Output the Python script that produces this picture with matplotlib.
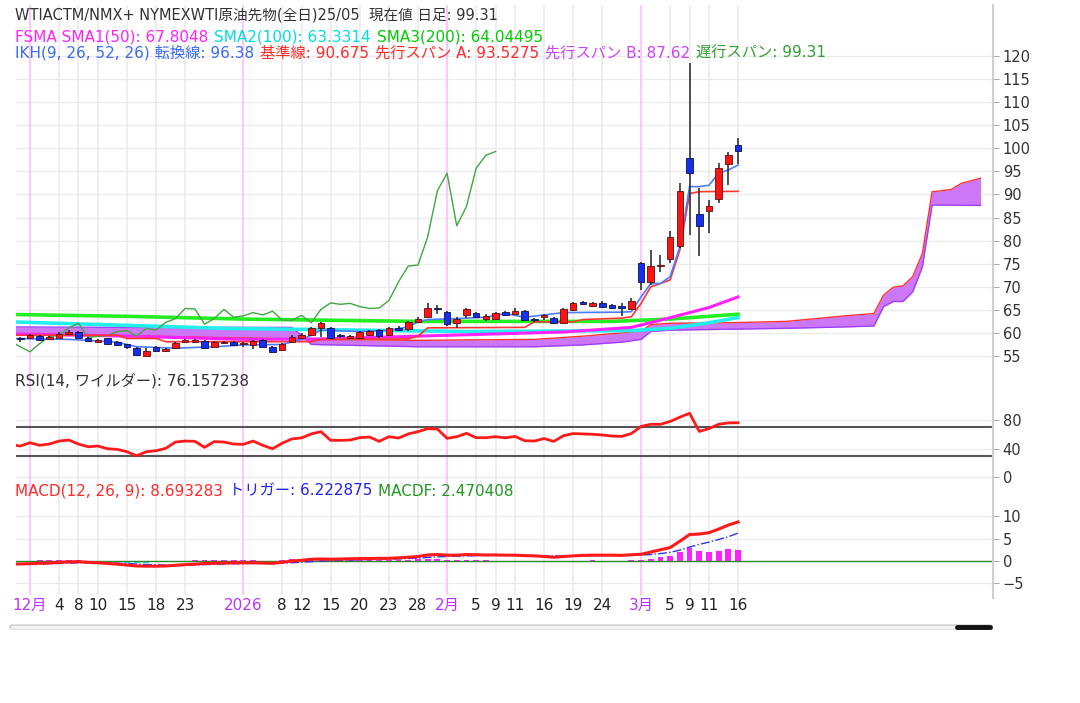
import numpy as np
import pandas as pd
import matplotlib
matplotlib.use("Agg")
import matplotlib.pyplot as plt
from matplotlib.lines import Line2D

plt.rcParams['font.family'] = ['DejaVu Sans', 'Noto Sans CJK JP']

# trading days (Nov 28 2025 .. Mar 16 2026, no Dec 25 / Jan 1)
days = pd.bdate_range('2025-11-28', '2026-03-16')
days = days[~days.isin(pd.to_datetime(['2025-12-25', '2026-01-01']))]

opens = [58.9, 59.0, 59.3, 58.6, 59.0, 59.8, 60.1, 59.0, 58.1, 58.8,
         58.0, 57.5, 56.7, 55.1, 56.9, 56.0, 56.7, 58.0, 58.1, 58.2,
         57.0, 57.8, 58.1, 57.5, 57.4, 58.5, 57.0, 56.3, 58.1, 58.8,
         59.5, 61.0, 61.0, 59.5, 59.0, 59.0, 59.5, 60.6, 59.5, 61.1,
         60.8, 62.4, 63.4, 65.5, 64.6, 62.2, 63.9, 64.4, 63.0, 63.0,
         64.5, 64.2, 64.7, 62.9, 63.5, 63.3, 62.2, 64.9, 66.6, 65.9,
         66.4, 66.0, 65.8, 65.1, 75.1, 71.1, 74.4, 76.1, 78.8, 98.0,
         85.8, 86.4, 89.0, 96.5, 100.7]
highs = [59.1, 59.8, 59.5, 59.4, 60.1, 60.6, 60.4, 59.2, 58.7, 59.0,
         58.2, 57.7, 56.9, 56.7, 57.1, 56.8, 58.0, 58.6, 58.7, 58.4,
         58.3, 58.3, 58.3, 58.0, 58.4, 58.7, 57.1, 57.9, 59.5, 59.9,
         61.3, 62.3, 61.2, 59.8, 59.5, 60.5, 60.7, 60.8, 61.2, 61.4,
         62.5, 63.5, 66.5, 66.0, 64.8, 63.5, 65.3, 64.6, 64.0, 64.6,
         64.7, 65.5, 64.9, 63.2, 64.2, 63.5, 65.3, 66.7, 66.9, 66.8,
         66.9, 66.2, 66.4, 67.5, 75.3, 78.0, 76.9, 82.0, 92.4, 118.5,
         91.3, 88.8, 96.9, 99.3, 102.2]
lows = [58.1, 58.9, 58.3, 58.4, 58.9, 59.6, 58.9, 58.0, 57.8, 57.3,
        57.2, 56.6, 55.0, 55.0, 55.9, 55.9, 56.6, 57.9, 57.9, 56.6,
        56.9, 57.6, 57.2, 57.0, 56.6, 56.9, 55.7, 56.0, 58.0, 58.7,
        59.4, 59.2, 58.9, 59.0, 58.9, 58.6, 59.3, 59.0, 59.4, 60.4,
        60.4, 62.2, 63.3, 64.2, 61.5, 61.1, 63.2, 63.2, 62.6, 62.7,
        63.7, 64.0, 62.6, 62.3, 62.8, 62.0, 62.0, 64.7, 66.0, 65.7,
        65.5, 65.1, 63.7, 64.9, 69.3, 70.3, 73.3, 75.1, 78.3, 81.2,
        76.7, 81.7, 88.2, 92.0, 96.7]
closes = [58.6, 59.5, 58.5, 59.2, 59.8, 60.3, 59.0, 58.2, 58.4, 57.6,
          57.4, 56.9, 55.2, 56.0, 56.1, 56.6, 57.9, 58.4, 58.5, 56.7,
          58.1, 58.0, 57.4, 57.6, 58.2, 57.0, 55.9, 57.7, 59.2, 59.5,
          61.1, 62.1, 59.0, 59.3, 59.4, 60.3, 60.5, 59.3, 61.0, 60.6,
          62.3, 63.1, 65.3, 65.2, 61.9, 63.1, 65.1, 63.4, 63.7, 64.4,
          63.9, 64.7, 62.8, 62.7, 63.8, 62.2, 65.1, 66.5, 66.2, 66.4,
          65.7, 65.3, 65.4, 67.0, 71.1, 74.5, 74.7, 80.8, 90.8, 94.6,
          83.2, 87.4, 95.7, 98.5, 99.31]

# moving averages (bar index, value)
sma50_x = [-1, 11, 23, 31, 46, 56, 63, 67, 71, 74]
sma50 = [59.8, 59.3, 58.6, 58.7, 59.6, 60.2, 61.2, 63.3, 65.5, 67.8048]
sma100_x = [-1, 21, 46, 63, 67, 71, 74]
sma100 = [62.4, 61.0, 60.3, 60.5, 61.0, 62.2, 63.3314]
sma200_x = [-1, 11, 23, 41, 61, 67, 74]
sma200 = [64.0, 63.6, 63.0, 62.5, 62.5, 63.0, 64.04495]

# ichimoku
tenkan_x = [-1, 5, 10, 12, 16, 20, 23, 27, 29, 30, 31, 35, 38, 40, 41, 42, 45, 48, 50,
            52, 54, 56, 62, 63, 64, 65, 66, 67, 68, 69, 70, 71, 72, 73, 74]
tenkan = [58.8, 58.6, 58.0, 57.0, 56.7, 57.0, 57.4, 57.5, 58.6, 59.5, 60.6, 60.3, 60.6,
          61.3, 62.4, 62.9, 63.1, 63.4, 64.2, 63.4, 63.9, 64.4, 64.5, 64.6, 67.8, 70.7,
          70.7, 72.2, 78.7, 91.7, 91.7, 92.0, 94.6, 95.3, 96.38]
kijun_x = [-1, 10, 11, 14, 15, 30, 31, 40, 41, 42, 52, 53, 57, 58, 62, 63, 64, 65, 66,
           67, 68, 69, 70, 74]
kijun = [59.5, 59.5, 58.8, 58.8, 58.1, 58.1, 58.6, 58.7, 59.3, 61.1, 61.2, 62.4, 62.4,
         62.9, 63.2, 63.5, 66.4, 70.0, 70.7, 71.5, 78.0, 90.2, 90.6, 90.675]
cloud_x = [-1, 11, 21, 28, 29, 30, 41, 53, 58, 62, 64, 65, 67, 73, 79, 83, 85, 88, 89,
           90, 91, 92, 93, 94, 95, 96, 97, 99]
span_a = [59.6, 59.4, 59.0, 58.7, 58.7, 58.6, 58.4, 58.6, 59.3, 60.0, 60.4, 61.8, 62.1,
          62.2, 62.5, 63.3, 63.7, 64.2, 68.2, 69.9, 70.2, 72.2, 77.2, 90.6, 90.8, 91.1,
          92.4, 93.5275]
span_b = [61.3, 61.2, 61.2, 61.2, 59.5, 57.5, 57.0, 57.0, 57.4, 58.0, 58.6, 60.3, 60.6,
          60.8, 61.0, 61.2, 61.3, 61.5, 65.7, 66.8, 66.8, 68.9, 74.3, 87.7, 87.7, 87.7,
          87.65, 87.62]
chikou_shift = 25

# oscillators, one value per bar from index -1
rsi = [45.5, 43.5, 48.1, 44.5, 46.3, 50.5, 51.9, 46.3, 42.5, 43.5, 39.7, 38.8, 35.5,
       29.9, 35.5, 36.9, 40.3, 49.1, 50.5, 50.1, 41.7, 49.7, 49.1, 46.3, 45.9, 50.5,
       44.5, 39.7, 47.4, 53.5, 54.9, 60.5, 63.6, 51.5, 51.5, 51.9, 55.2, 56.1, 50.1,
       56.6, 54.7, 60.5, 63.6, 67.9, 67.4, 54.3, 56.6, 61.3, 55.2, 55.2, 56.6, 55.0,
       57.0, 51.0, 50.5, 54.0, 50.0, 58.0, 61.0, 60.5, 60.0, 59.0, 57.5, 57.0, 61.0,
       71.0, 74.0, 74.0, 78.0, 84.0, 89.5, 64.0, 68.0, 74.0, 76.0, 76.157238]
macd = [-0.7, -0.65, -0.6, -0.5, -0.45, -0.3, -0.2, -0.15, -0.3, -0.4, -0.55, -0.7,
        -0.9, -1.1, -1.15, -1.15, -1.1, -0.95, -0.8, -0.7, -0.55, -0.5, -0.45, -0.4,
        -0.4, -0.4, -0.45, -0.5, -0.3, 0.0, 0.15, 0.4, 0.45, 0.4, 0.45, 0.5, 0.55, 0.55,
        0.6, 0.6, 0.7, 0.85, 1.0, 1.35, 1.45, 1.3, 1.3, 1.45, 1.4, 1.35, 1.35, 1.3, 1.3,
        1.2, 1.15, 1.0, 0.85, 1.0, 1.15, 1.25, 1.3, 1.3, 1.3, 1.25, 1.4, 1.5, 2.0, 2.5,
        3.0, 4.4, 5.9, 6.0, 6.3, 7.1, 8.0, 8.693283]
trigger = [-0.7, -0.68, -0.66, -0.63, -0.6, -0.54, -0.47, -0.41, -0.39, -0.39, -0.42,
           -0.48, -0.56, -0.67, -0.77, -0.84, -0.89, -0.9, -0.88, -0.85, -0.79, -0.73,
           -0.67, -0.62, -0.57, -0.54, -0.52, -0.52, -0.47, -0.38, -0.27, -0.14, -0.02,
           0.06, 0.14, 0.21, 0.28, 0.33, 0.39, 0.43, 0.48, 0.56, 0.64, 0.79, 0.92, 1.0,
           1.06, 1.14, 1.19, 1.22, 1.25, 1.26, 1.27, 1.25, 1.23, 1.18, 1.12, 1.1, 1.11,
           1.14, 1.17, 1.2, 1.22, 1.22, 1.26, 1.31, 1.45, 1.66, 1.93, 2.42, 3.1, 3.7,
           4.2, 4.8, 5.4, 6.222875]

tick_dates = ['2025-12-01', '2025-12-04', '2025-12-08', '2025-12-10', '2025-12-15',
              '2025-12-18', '2025-12-23', '2026-01-02', '2026-01-08', '2026-01-12',
              '2026-01-15', '2026-01-20', '2026-01-23', '2026-01-28', '2026-02-02',
              '2026-02-05', '2026-02-09', '2026-02-11', '2026-02-16', '2026-02-19',
              '2026-02-24', '2026-03-02', '2026-03-05', '2026-03-09', '2026-03-11',
              '2026-03-16']
tick_labels = ['12月', '4', '8', '10', '15', '18', '23', '2026', '8', '12', '15', '20',
               '23', '28', '2月', '5', '9', '11', '16', '19', '24', '3月', '5', '9',
               '11', '16']
month_labels = ['12月', '2026', '2月', '3月']

W, H = 1080, 703
fig = plt.figure(figsize=(W / 100, H / 100), dpi=100)
fig.patch.set_facecolor('white')


def box(top, bottom):
    return [16 / W, 1 - bottom / H, (993 - 16) / W, (bottom - top) / H]


ax = fig.add_axes(box(5, 368))
ax_rsi = fig.add_axes(box(368, 490), sharex=ax)
ax_macd = fig.add_axes(box(490, 595), sharex=ax)

tick_pos = [days.get_loc(pd.Timestamp(d)) for d in tick_dates]
grid_c = '#ebebeb'
pink = '#ffbbff'

for a, yt in [(ax, np.arange(55, 121, 5)), (ax_rsi, [0, 40, 80]), (ax_macd, [-5, 0, 5, 10])]:
    for s in a.spines.values():
        s.set_visible(False)
    a.yaxis.tick_right()
    a.set_yticks(yt)
    a.tick_params(axis='y', labelsize=10.5, colors='#333333', length=4, pad=3, color='#aaaaaa')
    a.tick_params(axis='x', length=0)
    for v in yt:
        a.axhline(v, color=grid_c, lw=1, zorder=0)
    for p, lab in zip(tick_pos, tick_labels):
        a.axvline(p, color=pink if lab in month_labels else grid_c, lw=1.2, zorder=0)

ax.set_xlim(-0.44, 100.28)
ax.set_ylim(52.4, 131.05)
ax_rsi.set_ylim(-18.2, 153)
ax_macd.set_ylim(-7.56, 15.8)
ax.tick_params(axis='x', labelbottom=False)
ax_rsi.tick_params(axis='x', labelbottom=False)

# cloud
ax.fill_between(cloud_x, span_a, span_b, color='#cc77f5', lw=0, zorder=1)
ax.plot(cloud_x, span_a, color='#ff3333', lw=1, zorder=2)
ax.plot(cloud_x, span_b, color='#a040ff', lw=1, zorder=2)

# moving averages
ax.plot(sma200_x, sma200, color='#22ee22', lw=2.6, zorder=3)
ax.plot(sma100_x, sma100, color='#22eeee', lw=2.6, zorder=3)
ax.plot(sma50_x, sma50, color='#ff22ff', lw=2.2, zorder=3)

# ichimoku lines
k = np.arange(len(closes))
ax.plot(k - chikou_shift, closes, color='#3fa83f', lw=1, zorder=3)
ax.plot(kijun_x, kijun, color='#ff3333', lw=1.2, zorder=4)
ax.plot(tenkan_x, tenkan, color='#4d7dff', lw=1.2, zorder=4)

# candles
o = np.array(opens)
c = np.array(closes)
up = c >= o
lo = np.minimum(o, c)
hgt = np.maximum(np.abs(c - o), 0.3)
ax.vlines(k, lows, highs, color='#222222', lw=1.1, zorder=5)
ax.bar(k[up], hgt[up], 0.68, bottom=lo[up], color='#ff1414', edgecolor='#5a1010',
       lw=0.6, zorder=6)
ax.bar(k[~up], hgt[~up], 0.68, bottom=lo[~up], color='#1430ee', edgecolor='#10104a',
       lw=0.6, zorder=6)

# RSI
xl = np.arange(-1, len(closes))
ax_rsi.axhline(70, color='#555555', lw=1.5, zorder=2)
ax_rsi.axhline(30, color='#555555', lw=1.5, zorder=2)
ax_rsi.plot(xl, rsi, color='#ff1a1a', lw=2, zorder=3)

# MACD
macd_a = np.array(macd)
trig_a = np.array(trigger)
macdf = macd_a - trig_a
ax_macd.bar(xl, macdf, 0.6, color=np.where(macdf >= 0, '#ff22ff', '#22dddd'), zorder=2)
ax_macd.axhline(0, color='#2a8a2a', lw=1, zorder=3)
ax_macd.plot(xl, trig_a, color='#3333ee', lw=1, ls='-.', zorder=4)
ax_macd.plot(xl, macd_a, color='#ff1a1a', lw=2.2, zorder=5)

ax_macd.set_xticks(tick_pos)
ax_macd.set_xticklabels(tick_labels, fontsize=11)
ax_macd.tick_params(axis='x', length=0, pad=2)
for t in ax_macd.get_xticklabels():
    t.set_color('#bb33ff' if t.get_text() in month_labels else '#222222')

# header texts, each part placed right after the previous one
renderer = fig.canvas.get_renderer()


def chain(y, parts, size=11, gap=6, x0=15):
    x = x0
    for s, col in parts:
        t = fig.text(x / W, 1 - y / H, s, color=col, fontsize=size, va='center', ha='left')
        x = t.get_window_extent(renderer).x1 + gap


chain(15, [('WTIACTM/NMX+ NYMEXWTI原油先物(全日)25/05  現在値 日足: 99.31', '#333333')], size=10.5)
chain(37, [('FSMA SMA1(50): 67.8048', '#ff22ff'), ('SMA2(100): 63.3314', '#00dddd'),
           ('SMA3(200): 64.04495', '#00cc00')])
chain(53, [('IKH(9, 26, 52, 26) 転換線: 96.38', '#3a6cf4'), ('基準線: 90.675', '#ff2a2a'),
           ('先行スパン A: 93.5275', '#ff2a2a'), ('先行スパン B: 87.62', '#cc44ff'),
           ('遅行スパン: 99.31', '#33a033')])
chain(381, [('RSI(14, ワイルダー): 76.157238', '#333333')])
chain(491, [('MACD(12, 26, 9): 8.693283', '#ff2a2a'), ('トリガー: 6.222875', '#2222ee'),
            ('MACDF: 2.470408', '#229922')])

# right border line and scrollbar
fig.add_artist(Line2D([993 / W, 993 / W], [1 - 5 / H, 1 - 598 / H], color='#d0d0d0', lw=1.5))
fig.add_artist(Line2D([12 / W, 990 / W], [1 - 627 / H] * 2, color='#d4d4d4', lw=4,
                      solid_capstyle='round'))
fig.add_artist(Line2D([12 / W, 990 / W], [1 - 627 / H] * 2, color='#f4f4f4', lw=2,
                      solid_capstyle='round'))
fig.add_artist(Line2D([957 / W, 990 / W], [1 - 627 / H] * 2, color='#111111', lw=3.5,
                      solid_capstyle='round'))

fig.savefig('out.png', dpi=100)
plt.close()
